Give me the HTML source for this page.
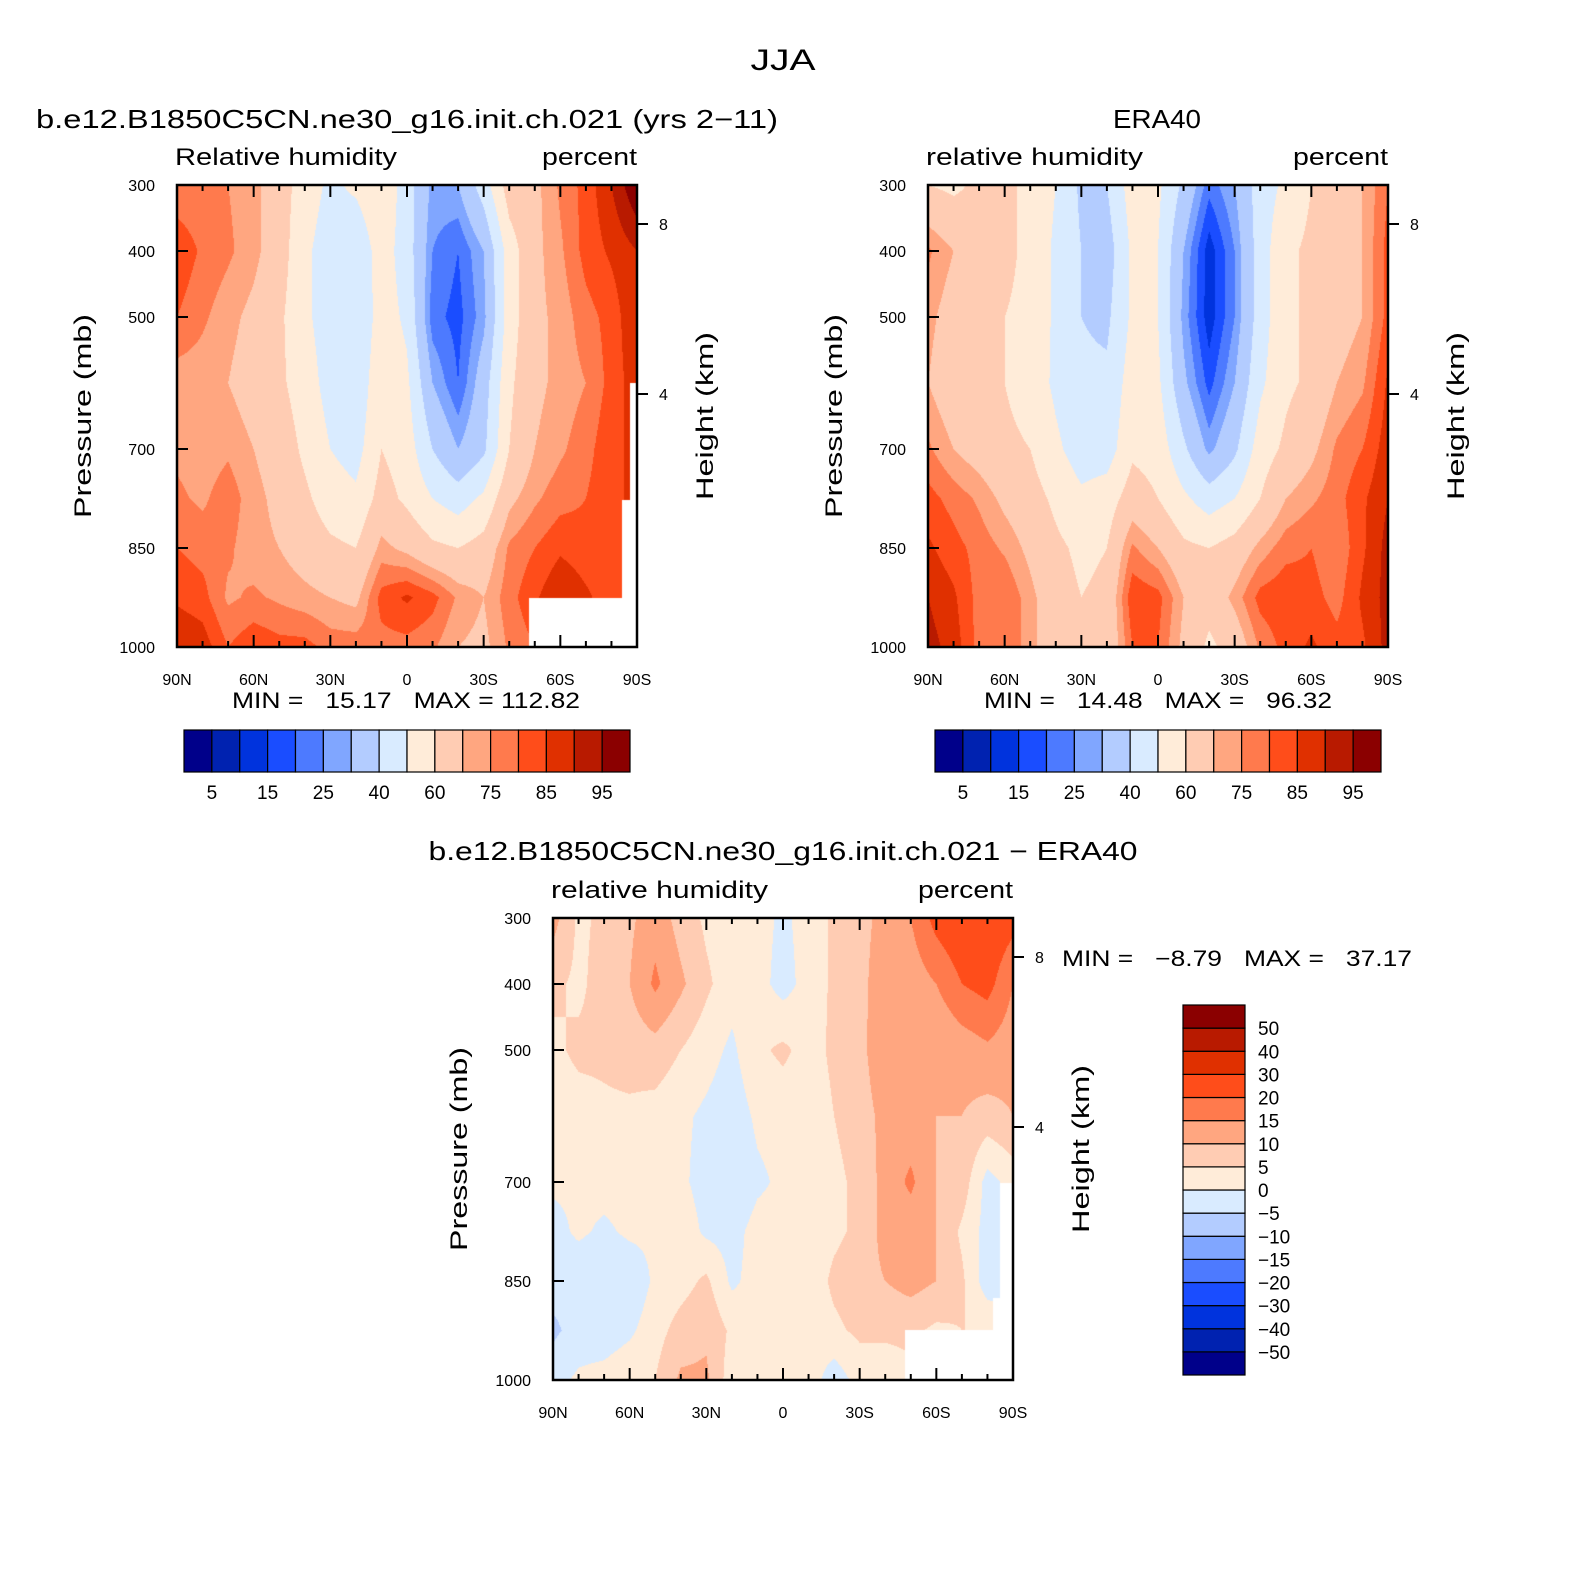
<!DOCTYPE html>
<html><head><meta charset="utf-8"><style>
html,body{margin:0;padding:0;background:#fff;}
#root{position:relative;width:1575px;height:1578px;overflow:hidden;font-family:"Liberation Sans","DejaVu Sans",sans-serif;}
canvas{position:absolute;}
svg{position:absolute;left:0;top:0;}
text{white-space:pre;}
</style></head><body>
<div id="root">
<canvas id="c1" width="460" height="462" style="left:177px;top:185px"></canvas>
<canvas id="c2" width="460" height="462" style="left:928px;top:185px"></canvas>
<canvas id="c3" width="460" height="462" style="left:553px;top:918px"></canvas>
<svg id="ov" width="1575" height="1578"></svg>
</div>
<script>
const lats=[90,80,70,60,50,40,30,20,10,0,-10,-20,-30,-40,-50,-60,-70,-80,-90];
const levels=[300,400,500,600,700,775,850,925,1000];
const modelRH=[
[76,76,75,72,65,55,48,52,58,45,28,30,45,65,68,76,82,90,100],
[84,79,76,72,65,52,45,42,55,45,25,20,30,55,68,74,82,86,90],
[80,76,72,68,62,52,45,40,55,48,22,18,28,55,68,72,78,82,90],
[72,72,70,66,62,55,46,42,58,52,30,20,35,58,68,72,75,82,88],
[74,72,74,70,66,58,50,46,60,55,40,30,38,60,70,74,78,84,86],
[76,74,78,72,68,62,55,52,64,58,50,45,52,68,74,78,80,84,86],
[80,78,76,72,70,66,62,60,72,68,62,60,64,76,80,84,82,84,86],
[84,82,74,76,74,72,70,68,82,86,82,74,70,78,84,90,86,82,86],
[90,88,80,84,82,82,78,78,78,78,76,70,68,76,80,84,84,82,82]];
const eraRH=[
[60,58,62,62,58,50,38,40,55,52,38,22,30,45,52,60,65,70,80],
[76,70,64,62,58,48,40,35,52,50,30,12,25,45,58,62,66,70,82],
[72,66,62,60,58,48,40,38,52,50,28,12,25,45,58,62,66,70,82],
[70,64,62,60,56,48,42,42,55,52,32,18,30,48,58,62,70,74,86],
[76,70,66,62,60,52,45,45,58,56,42,28,38,55,62,68,76,80,88],
[82,78,74,68,64,58,52,55,65,60,52,45,50,60,70,74,78,84,90],
[86,82,78,74,68,62,58,60,76,70,62,60,64,72,78,80,76,84,92],
[90,86,78,80,72,64,60,62,84,82,70,64,72,82,84,82,78,86,92],
[92,88,78,80,72,64,60,62,80,80,68,58,64,76,82,86,82,84,92]];
const diffRH=[
[12,4,6,9,13,8,4,2,2,-1,2,6,8,12,15,22,25,25,22],
[6,4,7,10,16,11,6,2,2,-2,2,6,8,14,12,15,20,22,15],
[4,6,6,7,8,5,2,-1,4,6,3,6,8,15,12,10,12,14,12],
[2,3,4,4,3,1,-1,-3,1,2,2,5,7,12,12,10,10,8,10],
[1,1,2,2,2,1,-2,-5,-1,1,2,4,6,12,16,10,8,-2,2],
[-2,1,-1,1,1,3,-1,-2,2,2,2,4,6,12,12,10,4,-2,-3],
[-3,-4,-5,-4,1,3,6,-1,2,3,2,6,8,10,12,10,6,-3,-2],
[-6,-3,-3,-1,3,7,9,4,2,2,2,4,6,6,6,4,5,5,0],
[-2,1,2,4,5,11,11,2,0,0,3,-3,2,2,4,2,5,5,4]];
const rhLevels=[5,10,15,20,25,30,40,50,60,70,75,80,85,90,95];
const diffLevels=[-50,-40,-30,-20,-15,-10,-5,0,5,10,15,20,30,40,50];
const colors=["#00008a","#0022b0","#0033dd","#1a4dff","#4d7aff","#80a6ff","#b3ccff","#d9ebff","#ffecd9","#ffccb3","#ffa680","#ff7a4d","#ff4d1a","#e03000","#b81a00","#8b0000"];
const latTicks=["90N","60N","30N","0","30S","60S","90S"];
const pTicks=[300,400,500,700,850,1000];

const W=460,H=462;
function xOf(lat){return (90-lat)/180*W;}
function yOf(p){return (p-300)/700*H;}
function hex(c){return [parseInt(c.slice(1,3),16),parseInt(c.slice(3,5),16),parseInt(c.slice(5,7),16)];}
const rgb=colors.map(hex);
function fill(id,grid,lv,masks){
  const cv=document.getElementById(id),ctx=cv.getContext('2d');
  const img=ctx.createImageData(W,H);
  for(let py=0;py<H;py++){
    const p=300+(py+0.5)/H*700;
    let r=0;while(r<levels.length-2&&p>levels[r+1])r++;
    const tr=(p-levels[r])/(levels[r+1]-levels[r]);
    for(let px=0;px<W;px++){
      const lat=90-(px+0.5)/W*180;
      let c=Math.min(17,Math.floor((90-lat)/10));
      const tc=((90-lat)-c*10)/10;
      const v=(grid[r][c]*(1-tc)+grid[r][c+1]*tc)*(1-tr)+(grid[r+1][c]*(1-tc)+grid[r+1][c+1]*tc)*tr;
      let k=0;while(k<lv.length&&v>=lv[k])k++;
      const col=rgb[k],i=(py*W+px)*4;
      img.data[i]=col[0];img.data[i+1]=col[1];img.data[i+2]=col[2];img.data[i+3]=255;
    }
  }
  ctx.putImageData(img,0,0);
  ctx.fillStyle="#fff";
  masks.forEach(m=>ctx.fillRect(m[0],m[1],m[2],m[3]));
}
fill('c1',modelRH,rhLevels,[[352,413,108,49],[445,315,15,147],[453,198,7,264]]);
fill('c2',eraRH,rhLevels,[]);
fill('c3',diffRH,diffLevels,[[352,412,108,50],[447,265,13,197],[440,380,8,82]]);

const ov=document.getElementById('ov');
const NS="http://www.w3.org/2000/svg";
function el(tag,attrs,txt){const e=document.createElementNS(NS,tag);for(const k in attrs)e.setAttribute(k,attrs[k]);if(txt!==undefined)e.textContent=txt;ov.appendChild(e);return e;}
function text(x,y,s,size,anchor,name,extra,len){
  const a=Object.assign({x:x,y:y,'font-size':size,'text-anchor':anchor||'start',fill:'#000'},extra||{});
  if(len){a.textLength=len;a.lengthAdjust='spacingAndGlyphs';}
  const t=el('text',a,s);
  
  
  return t;
}
function panel(ox,oy,left,leftLen,tag){
  const f=el('rect',{x:ox,y:oy,width:W,height:H,fill:'none',stroke:'#000','stroke-width':2.5});
  
  
  for(let lat=90;lat>=-90;lat-=10){
    const x=ox+xOf(lat),major=lat%30===0,len=major?12:6;
    const t1=el('line',{x1:x,y1:oy+H,x2:x,y2:oy+H-len,stroke:'#000','stroke-width':2});
    
    
    const t2=el('line',{x1:x,y1:oy,x2:x,y2:oy+len,stroke:'#000','stroke-width':2});
    
    
  }
  latTicks.forEach((s,i)=>text(ox+i*W/6,oy+H+38,s,16,'middle','x-tick-label'));
  pTicks.forEach(p=>{
    const y=oy+yOf(p);
    const t=el('line',{x1:ox,y1:y,x2:ox+11,y2:y,stroke:'#000','stroke-width':2});
    
    
    text(ox-22,y+6,String(p),16,'end','y-tick-label');
  });
  [[8,224-185],[4,394-185]].forEach(h=>{
    const y=oy+h[1];
    const t=el('line',{x1:ox+W,y1:y,x2:ox+W+11,y2:y,stroke:'#000','stroke-width':2});
    
    
    text(ox+W+22,y+6,String(h[0]),16,'start','height-tick-label');
  });
  text(ox-2,oy-20,left,24,'start',tag+'-variable-label',null,leftLen);
  text(ox+W,oy-20,'percent',24,'end',tag+'-units-label',null,95);
  text(ox-86,oy+231,'Pressure (mb)',24,'middle','y-axis-title',{transform:'rotate(-90 '+(ox-86)+' '+(oy+231)+')'},204);
  text(ox+W+76,oy+231,'Height (km)',24,'middle','right-axis-title',{transform:'rotate(-90 '+(ox+W+76)+' '+(oy+231)+')'},168);
}
text(783,70,'JJA',30,'middle','figure-title',null,65);
text(36,128,'b.e12.B1850C5CN.ne30_g16.init.ch.021 (yrs 2\u221211)',26,'start','model-panel-title',null,742);
text(1157,128,'ERA40',26,'middle','era40-panel-title',null,88);
text(783,860,'b.e12.B1850C5CN.ne30_g16.init.ch.021 \u2212 ERA40',26,'middle','difference-panel-title',null,709);
panel(177,185,'Relative humidity',222,'model');
panel(928,185,'relative humidity',217,'era40');
panel(553,918,'relative humidity',217,'difference');
text(406,708,'MIN =   15.17   MAX = 112.82',22,'middle','model-min-max',null,348);
text(1158,708,'MIN =   14.48   MAX =   96.32',22,'middle','era40-min-max',null,348);
text(1062,966,'MIN =   \u22128.79   MAX =   37.17',22,'start','difference-min-max',null,350);

function hbar(x0,name){
  const w=446/16;
  colors.forEach((c,i)=>{
    const r=el('rect',{x:x0+i*w,y:730,width:w,height:42,fill:c,stroke:'#000','stroke-width':1.2});
    
    
  });
  rhLevels.forEach((v,i)=>{if(i%2===0)text(x0+(i+1)*w,799,String(v),19,'middle',name+'-label');});
}
hbar(184,'model-colorbar');
hbar(935,'era40-colorbar');
const vh=370/16;
colors.forEach((c,i)=>{
  const r=el('rect',{x:1183,y:1005+(15-i)*vh,width:62,height:vh,fill:c,stroke:'#000','stroke-width':1.2});
  
  
});
diffLevels.forEach((v,i)=>{
  text(1258,1005+(15-i)*vh+7,v<0?'\u2212'+(-v):String(v),19,'start','difference-colorbar-label');
});
</script>
</body></html>
